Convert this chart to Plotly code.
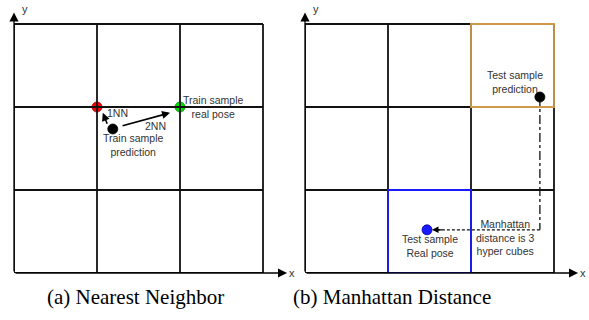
import plotly.graph_objects as go

# ---- data (grid units, each panel is a 3x3 grid of hyper cubes) ----
grid_ticks = [0, 1, 2, 3]

# panel (a) Nearest Neighbor
nn_pt_x = [1.0, 2.0, 1.19]
nn_pt_y = [2.0, 2.0, 1.735]
nn_pt_color = ["#ff0000", "#00e000", "#000000"]
nn_pt_edge = ["#a00000", "#009000", "#000000"]
nn_arrow_tail_x = [1.13, 1.29]
nn_arrow_tail_y = [1.78, 1.77]
nn_arrow_tip_x = [1.07, 1.88]
nn_arrow_tip_y = [1.93, 1.93]
nn_text = ["1NN", "2NN", "Train sample<br>prediction", "Train sample<br>real pose"]
nn_text_x = [1.25, 1.70, 1.43, 2.40]
nn_text_y = [1.93, 1.77, 1.54, 2.00]

# panel (b) Manhattan Distance
md_pred = (2.83, 2.12)
md_real = (1.47, 0.52)
md_pred_cell = (2, 2)
md_real_cell = (1, 0)
md_text = ["Test sample<br>prediction", "Test sample<br>Real pose",
           "Manhattan<br>distance is 3<br>hyper cubes"]
md_text_x = [2.53, 1.51, 2.41]
md_text_y = [2.30, 0.33, 0.43]

captions = ["(a) Nearest Neighbor", "(b) Manhattan Distance"]

# ---- layout geometry ----
W, H = 589, 320
S = 83.0  # pixels per grid unit
XR = [0, 3.4]
YR = [0, 3.25]
left_x0, right_x0, base_y = 14, 305, 273


def dom_x(x0):
    return [x0 / W, (x0 + XR[1] * S) / W]


dom_y = [(H - base_y) / H, (H - base_y + YR[1] * S) / H]

fig = go.Figure()
TXT = "#333333"
sans = "Liberation Sans, Arial, sans-serif"

shapes = []
annotations = []

for xa, ya in [("x", "y"), ("x2", "y2")]:
    for t in grid_ticks:
        shapes.append(dict(type="line", xref=xa, yref=ya, x0=t, x1=t, y0=0, y1=3,
                           line=dict(color="#111111", width=1.8)))
        shapes.append(dict(type="line", xref=xa, yref=ya, y0=t, y1=t, x0=0, x1=3,
                           line=dict(color="#111111", width=1.8)))
    # axis arrows
    annotations.append(dict(xref=xa, yref=ya, axref=xa, ayref=ya, x=0, y=3.14, ax=0, ay=0,
                            showarrow=True, arrowhead=2, arrowsize=1.4, arrowwidth=1.3,
                            arrowcolor="#000000", text=""))
    annotations.append(dict(xref=xa, yref=ya, axref=xa, ayref=ya, x=3.29, y=0, ax=0, ay=0,
                            showarrow=True, arrowhead=2, arrowsize=1.4, arrowwidth=1.3,
                            arrowcolor="#000000", text=""))
    annotations.append(dict(xref=xa, yref=ya, x=0.13, y=3.18, text="y", showarrow=False,
                            font=dict(family=sans, size=11, color=TXT)))
    annotations.append(dict(xref=xa, yref=ya, x=3.35, y=0.0, text="x", showarrow=False,
                            font=dict(family=sans, size=11, color=TXT)))

# colored cells in panel b
cx, cy = md_pred_cell
shapes.append(dict(type="rect", xref="x2", yref="y2", x0=cx, x1=cx + 1, y0=cy, y1=cy + 1,
                   line=dict(color="#d09a4a", width=1.8)))
cx, cy = md_real_cell
shapes.append(dict(type="rect", xref="x2", yref="y2", x0=cx, x1=cx + 1, y0=cy, y1=cy + 1,
                   line=dict(color="#1a1aff", width=1.8)))

# manhattan path
fig.add_trace(go.Scatter(x=[md_pred[0], md_pred[0]], y=[md_pred[1], md_real[1]],
                         mode="lines", line=dict(color="#111111", width=1.3, dash="dashdot"),
                         xaxis="x2", yaxis="y2", showlegend=False, hoverinfo="skip"))
fig.add_trace(go.Scatter(x=[md_pred[0], md_real[0] + 0.12], y=[md_real[1], md_real[1]],
                         mode="lines", line=dict(color="#111111", width=1.3, dash="3px,2px"),
                         xaxis="x2", yaxis="y2", showlegend=False, hoverinfo="skip"))
annotations.append(dict(xref="x2", yref="y2", axref="x2", ayref="y2",
                        x=md_real[0] + 0.06, y=md_real[1], ax=md_real[0] + 0.2, ay=md_real[1],
                        showarrow=True, arrowhead=2, arrowsize=1, arrowwidth=1.3,
                        arrowcolor="#000000", text=""))

# points
fig.add_trace(go.Scatter(x=nn_pt_x, y=nn_pt_y, mode="markers",
                         marker=dict(color=nn_pt_color, size=10,
                                     line=dict(width=0.8, color=nn_pt_edge)),
                         xaxis="x", yaxis="y", showlegend=False, hoverinfo="skip"))
fig.add_trace(go.Scatter(x=[md_pred[0], md_real[0]], y=[md_pred[1], md_real[1]], mode="markers",
                         marker=dict(color=["#000000", "#1a1aff"], size=10,
                                     line=dict(width=0.8, color=["#000000", "#0000a0"])),
                         xaxis="x2", yaxis="y2", showlegend=False, hoverinfo="skip"))

# NN arrows
for tx, ty, hx, hy in zip(nn_arrow_tail_x, nn_arrow_tail_y, nn_arrow_tip_x, nn_arrow_tip_y):
    annotations.append(dict(xref="x", yref="y", axref="x", ayref="y", x=hx, y=hy, ax=tx, ay=ty,
                            showarrow=True, arrowhead=2, arrowsize=1, arrowwidth=1.6,
                            arrowcolor="#000000", text=""))

for t, x, y in zip(nn_text, nn_text_x, nn_text_y):
    annotations.append(dict(xref="x", yref="y", x=x, y=y, text=t, showarrow=False,
                            font=dict(family=sans, size=10.5, color=TXT)))
for t, x, y in zip(md_text, md_text_x, md_text_y):
    annotations.append(dict(xref="x2", yref="y2", x=x, y=y, text=t, showarrow=False,
                            font=dict(family=sans, size=10.5, color=TXT)))

cap_x = [135 / W, 392 / W]
for t, x in zip(captions, cap_x):
    annotations.append(dict(xref="paper", yref="paper", x=x, y=(H - 297) / H, text=t,
                            showarrow=False, xanchor="center", yanchor="middle",
                            font=dict(family="Liberation Serif, Times New Roman, serif",
                                      size=21, color="#000000")))

ax_common = dict(visible=False, showgrid=False, zeroline=False, fixedrange=True)
fig.update_layout(
    width=W, height=H,
    margin=dict(l=0, r=0, t=0, b=0),
    paper_bgcolor="white", plot_bgcolor="white",
    xaxis=dict(domain=dom_x(left_x0), range=XR, **ax_common),
    yaxis=dict(domain=dom_y, range=YR, **ax_common),
    xaxis2=dict(domain=dom_x(right_x0), range=XR, **ax_common),
    yaxis2=dict(domain=dom_y, range=YR, anchor="x2", **ax_common),
    shapes=shapes,
    annotations=annotations,
)
fig.update_layout(xaxis2_anchor="y2")

fig.write_html("out.html")
